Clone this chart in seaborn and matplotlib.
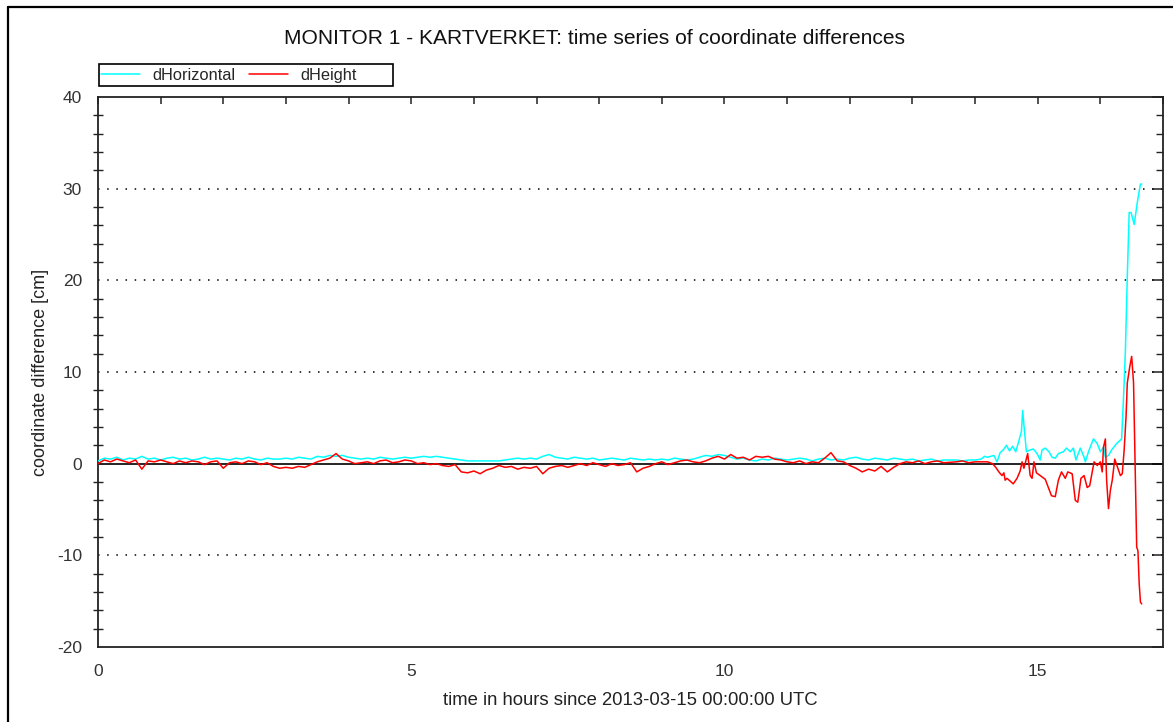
import numpy as np
import pandas as pd
import matplotlib
matplotlib.use("Agg")
import matplotlib.pyplot as plt
from matplotlib.lines import Line2D
from matplotlib.patches import Rectangle
from matplotlib.ticker import MultipleLocator, FixedLocator, FuncFormatter
import seaborn as sns

# ---- data -------------------------------------------------------------
# quiet period, sampled every 0.1 h from 0.0 h to 13.5 h
horiz_quiet = [
    0.3, 0.6, 0.5, 0.7, 0.4, 0.6, 0.5, 0.8, 0.5, 0.6,
    0.4, 0.6, 0.7, 0.5, 0.6, 0.4, 0.5, 0.7, 0.5, 0.6,
    0.5, 0.4, 0.6, 0.5, 0.7, 0.5, 0.4, 0.6, 0.5, 0.5,
    0.6, 0.5, 0.7, 0.6, 0.5, 0.8, 0.7, 0.9, 0.8, 0.9,
    0.7, 0.6, 0.5, 0.6, 0.5, 0.7, 0.6, 0.5, 0.6, 0.7,
    0.6, 0.7, 0.8, 0.7, 0.8, 0.7, 0.6, 0.5, 0.4, 0.3,
    0.3, 0.3, 0.3, 0.3, 0.3, 0.4, 0.5, 0.6, 0.5, 0.6,
    0.5, 0.8, 1.0, 0.7, 0.6, 0.5, 0.7, 0.6, 0.5, 0.6,
    0.4, 0.5, 0.6, 0.5, 0.4, 0.6, 0.5, 0.4, 0.5, 0.4,
    0.5, 0.4, 0.6, 0.5, 0.4, 0.5, 0.7, 0.9, 0.8, 1.0,
    0.9, 0.7, 0.5, 0.6, 0.4, 0.3, 0.5, 0.4, 0.6, 0.5,
    0.4, 0.5, 0.6, 0.5, 0.3, 0.5, 0.6, 0.4, 0.5, 0.4,
    0.6, 0.7, 0.5, 0.4, 0.6, 0.5, 0.4, 0.6, 0.5, 0.4,
    0.5, 0.3, 0.4, 0.5, 0.3, 0.4,
]
height_quiet = [
    0.0, 0.4, 0.2, 0.5, 0.3, 0.1, 0.4, -0.6, 0.3, 0.2,
    0.4, 0.2, 0.0, 0.3, 0.1, 0.3, 0.2, -0.1, 0.2, 0.3,
    -0.5, 0.1, 0.2, 0.0, 0.3, 0.2, -0.1, 0.1, -0.3, -0.5,
    -0.4, -0.5, -0.3, -0.4, -0.1, 0.2, 0.4, 0.6, 1.1, 0.5,
    0.3, 0.0, 0.1, 0.2, 0.0, 0.3, 0.4, 0.1, 0.2, 0.4,
    0.3, 0.0, 0.1, -0.1, 0.0, -0.2, -0.3, -0.1, -0.9, -1.0,
    -0.8, -1.1, -0.7, -0.5, -0.2, -0.4, -0.3, -0.6, -0.4, -0.5,
    -0.3, -1.1, -0.5, -0.3, -0.2, -0.4, -0.2, 0.0, -0.2, 0.1,
    -0.1, -0.3, 0.0, -0.2, -0.1, 0.1, -0.9, -0.5, -0.3, 0.0,
    0.2, -0.1, 0.1, 0.3, 0.4, 0.2, 0.1, 0.3, 0.6, 0.8,
    0.5, 1.0, 0.6, 0.7, 0.4, 0.8, 0.7, 0.8, 0.5, 0.4,
    0.2, 0.1, 0.3, 0.0, 0.2, 0.1, 0.6, 1.2, 0.3, 0.2,
    -0.2, -0.5, -0.9, -0.6, -0.8, -0.3, -0.9, -0.4, 0.0, 0.2,
    0.1, 0.3, 0.0, 0.2, 0.3, 0.1,
]

# disturbed period, irregular time stamps [h]
horiz_storm_t = [
    13.7, 13.8, 13.9, 14.0, 14.1, 14.15, 14.2, 14.25, 14.3, 14.35,
    14.4, 14.45, 14.5, 14.55, 14.6, 14.65, 14.7, 14.74, 14.76, 14.78,
    14.82, 14.88, 14.93, 14.99, 15.04, 15.07, 15.12, 15.18, 15.23, 15.28,
    15.33, 15.41, 15.46, 15.52, 15.57, 15.61, 15.68, 15.74, 15.76, 15.81,
    15.89, 15.95, 16.0, 16.05, 16.08, 16.13, 16.18, 16.26, 16.34, 16.38,
    16.40, 16.43, 16.46, 16.49, 16.54, 16.59, 16.64, 16.66,
]
horiz_storm = [
    0.4, 0.3, 0.4, 0.4, 0.5, 0.8, 0.7, 0.8, 0.9, 0.2,
    1.2, 1.5, 2.0, 1.4, 1.9, 1.3, 2.5, 3.5, 5.8, 4.2,
    1.3, 1.5, 1.6, 1.1, 0.4, 1.5, 1.7, 1.3, 0.7, 0.6,
    1.1, 1.3, 1.7, 1.3, 1.7, 0.4, 1.7, 0.7, 0.2, 1.3,
    2.7, 2.2, 1.3, 1.8, 0.7, 0.9, 1.5, 2.2, 2.7, 8.8,
    12.4, 20.4, 27.4, 27.4, 26.1, 28.5, 30.5, 30.5,
]
height_storm_t = [
    13.7, 13.8, 13.9, 14.0, 14.1, 14.2, 14.28, 14.33, 14.38, 14.43,
    14.46, 14.48, 14.51, 14.56, 14.61, 14.67, 14.72, 14.75, 14.78, 14.81,
    14.84, 14.88, 14.91, 14.94, 14.98, 15.04, 15.12, 15.17, 15.22, 15.28,
    15.33, 15.38, 15.44, 15.48, 15.55, 15.6, 15.64, 15.69, 15.74, 15.79,
    15.83, 15.9, 15.95, 16.0, 16.03, 16.05, 16.08, 16.1, 16.13, 16.16,
    16.19, 16.23, 16.26, 16.32, 16.35, 16.38, 16.41, 16.43, 16.47, 16.50,
    16.53, 16.56, 16.58, 16.60, 16.62, 16.64, 16.66,
]
height_storm = [
    0.2, 0.3, 0.1, 0.2, 0.2, 0.2, 0.0, -0.4, -0.9, -1.3,
    -1.0, -1.8, -1.6, -1.9, -2.2, -1.6, -0.8, 0.2, -0.5, 0.3,
    1.1, -1.3, -1.6, 0.2, -1.0, -1.3, -1.7, -2.6, -3.5, -3.6,
    -1.8, -0.9, -1.6, -0.9, -1.1, -4.0, -4.2, -1.6, -1.3, -2.6,
    -2.4, 0.2, -0.2, 0.2, -0.9, 1.8, 2.7, -1.8, -4.9, -2.9,
    -1.8, 0.5, -0.1, -1.3, -1.1, 1.5, 5.1, 8.8, 10.6, 11.7,
    8.8, -2.2, -9.1, -9.5, -13.1, -15.1, -15.3,
]

series_names = ["dHorizontal", "dHeight"]
series_colors = ["#00FFFF", "#FF0000"]
x_label_ticks = [0, 5, 10, 15]
y_label_ticks = [-20, -10, 0, 10, 20, 30, 40]
grid_levels = [-10, 10, 20, 30]

t_quiet_h = np.arange(len(horiz_quiet)) * 0.1
t_quiet_v = np.arange(len(height_quiet)) * 0.1
df_h = pd.DataFrame({"t": np.concatenate([t_quiet_h, horiz_storm_t]),
                     "v": np.concatenate([horiz_quiet, horiz_storm])})
df_v = pd.DataFrame({"t": np.concatenate([t_quiet_v, height_storm_t]),
                     "v": np.concatenate([height_quiet, height_storm])})

# ---- figure -----------------------------------------------------------
sns.set_style("white")
plt.rcParams["font.family"] = ["Liberation Sans", "DejaVu Sans"]
plt.rcParams["axes.unicode_minus"] = False

W, H = 1173, 722
fig = plt.figure(figsize=(W / 100, H / 100), dpi=100)
ax = fig.add_axes([98 / W, 1 - 647 / H, (1163 - 98) / W, (647 - 97) / H])

for yl in grid_levels:
    ax.axhline(yl, color="black", lw=1.1, ls=(0, (1, 5)), zorder=1)
ax.axhline(0, color="black", lw=1.2, zorder=1)

sns.lineplot(data=df_h, x="t", y="v", color=series_colors[0], lw=1.1,
             estimator=None, sort=False, ax=ax, label=series_names[0], zorder=3)
sns.lineplot(data=df_v, x="t", y="v", color=series_colors[1], lw=1.1,
             estimator=None, sort=False, ax=ax, label=series_names[1], zorder=4)

ax.set_xlim(0, 17)
ax.set_ylim(-20, 40)

ax.xaxis.set_major_locator(MultipleLocator(1))
ax.xaxis.set_major_formatter(
    FuncFormatter(lambda v, p: f"{int(round(v))}" if int(round(v)) in x_label_ticks else ""))
ax.yaxis.set_major_locator(FixedLocator(y_label_ticks))
ax.yaxis.set_minor_locator(MultipleLocator(2))

for s in ax.spines.values():
    s.set_color("#222222")
    s.set_linewidth(1.3)

ax.tick_params(axis="x", which="major", direction="inout", length=7, width=1.1,
               color="#222222", labelsize=12.5, labelcolor="#333333", pad=9)
ax.tick_params(axis="y", which="major", direction="out", length=7, width=1.1,
               color="#222222", labelsize=12.5, labelcolor="#333333", pad=4.5)
ax.tick_params(axis="y", which="minor", direction="inout", length=7, width=1.0,
               color="#222222", left=True)

# inward ticks on the top and right frame lines
top = ax.secondary_xaxis("top")
top.xaxis.set_major_locator(MultipleLocator(1))
top.tick_params(direction="in", length=5, width=1.1, color="#222222", labeltop=False)
top.spines["top"].set_visible(False)
right = ax.secondary_yaxis("right")
right.yaxis.set_major_locator(FixedLocator(y_label_ticks))
right.yaxis.set_minor_locator(MultipleLocator(2))
right.tick_params(which="major", direction="in", length=8, width=1.1,
                  color="#222222", labelright=False)
right.tick_params(which="minor", direction="in", length=5, width=1.0, color="#222222")
right.spines["right"].set_visible(False)

ax.set_xlabel("time in hours since 2013-03-15 00:00:00 UTC", fontsize=13.3,
              color="#222222", labelpad=9)
ax.set_ylabel("coordinate difference [cm]", fontsize=13, color="#222222",
              labelpad=6)

# legend entries in one row, inside a fixed box above the plot
ax.get_legend().remove()
handles = [Line2D([], [], color=c, lw=1.1) for c in series_colors]
fig.legend(handles, series_names, loc="center left",
           bbox_to_anchor=(101 / W, 1 - 75.5 / H), ncol=2, fontsize=11.8,
           frameon=False, handlelength=2.4, handletextpad=0.75,
           columnspacing=0.8, borderpad=0, borderaxespad=0)
fig.add_artist(Rectangle((99 / W, 1 - 86 / H), (393 - 99) / W, (86 - 64) / H,
                         transform=fig.transFigure, fill=False,
                         edgecolor="black", lw=1.2))

fig.text(594 / W, 1 - 38 / H,
         "MONITOR 1 - KARTVERKET: time series of coordinate differences",
         ha="center", va="center", fontsize=15.1, color="#111111")

# outer frame
fig.add_artist(Line2D([8 / W, 8 / W], [0, 1 - 7 / H], color="black", lw=1.6,
                      transform=fig.transFigure))
fig.add_artist(Line2D([8 / W, 1], [1 - 7 / H, 1 - 7 / H], color="black", lw=1.6,
                      transform=fig.transFigure))

fig.savefig("out.png", dpi=100)
